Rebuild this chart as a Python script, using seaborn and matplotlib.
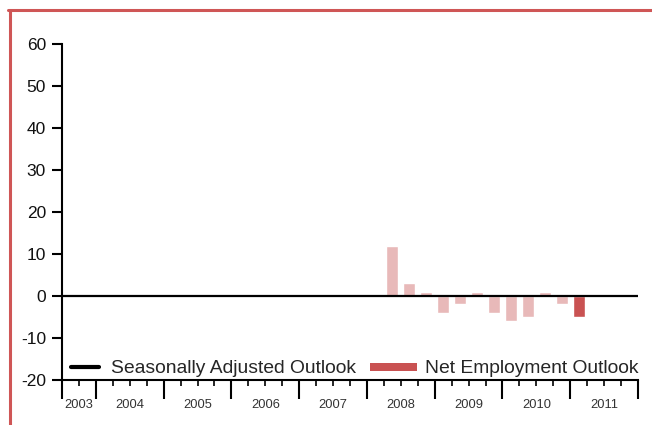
import numpy as np
import pandas as pd
import matplotlib
matplotlib.use("Agg")
import matplotlib.pyplot as plt
import seaborn as sns
from matplotlib.lines import Line2D
from matplotlib.patches import Rectangle, Patch
from matplotlib.legend_handler import HandlerBase

# ---- data ----
years = ["2003", "2004", "2005", "2006", "2007", "2008", "2009", "2010", "2011"]
quarters_in_year = [2, 4, 4, 4, 4, 4, 4, 4, 4]   # 2003 starts at Q3
bar_quarters = ["2008Q2", "2008Q3", "2008Q4", "2009Q1", "2009Q2", "2009Q3",
                "2009Q4", "2010Q1", "2010Q2", "2010Q3", "2010Q4", "2011Q1"]
net_outlook = [12, 3, 1, -4, -2, 1, -4, -6, -5, 1, -2, -5]
is_current = [False] * 11 + [True]
y_ticks = [-20, -10, 0, 10, 20, 30, 40, 50, 60]
legend_labels = ["Seasonally Adjusted Outlook", "Net Employment Outlook"]

LIGHT = "#e8b9b9"
DARK = "#c95252"
FRAME = "#cf5656"

def q_index(q):
    y, qq = int(q[:4]), int(q[-1])
    return (y - 2003) * 4 + (qq - 3)

df = pd.DataFrame({
    "pos": [q_index(q) + 0.5 for q in bar_quarters],
    "value": net_outlook,
    "kind": ["current" if c else "past" for c in is_current],
})

sns.set_theme(style="white")
plt.rcParams["font.family"] = ["Liberation Sans", "DejaVu Sans"]

fig = plt.figure(figsize=(6.52, 4.25), dpi=100)
ax = fig.add_axes([62 / 652, 1 - 380 / 425, 576 / 652, 336 / 425])

sns.barplot(data=df, x="pos", y="value", hue="kind", native_scale=True,
            palette={"past": LIGHT, "current": DARK}, width=0.7, dodge=False,
            legend=False, ax=ax, saturation=1)

total_q = sum(quarters_in_year)
ax.set_xlim(0, total_q)
ax.set_ylim(-20, 60)
ax.axhline(0, color="black", lw=1.6, zorder=3)

# spines
for s in ["top", "right"]:
    ax.spines[s].set_visible(False)
for s in ["left", "bottom"]:
    ax.spines[s].set_color("black")
    ax.spines[s].set_linewidth(1.5)

ax.set_yticks(y_ticks)
ax.set_yticklabels([str(v) for v in y_ticks], fontsize=12.5, color="#111111")
ax.tick_params(axis="y", direction="out", length=7.5, width=1.5, pad=4, color="black", left=True)

# x ticks: year boundaries (long), quarter boundaries (short)
bounds = np.concatenate([[0], np.cumsum(quarters_in_year)])
ax.set_xticks(bounds)
ax.set_xticklabels([""] * len(bounds))
ax.set_xticks(np.arange(0, total_q + 1), minor=True)
ax.tick_params(axis="x", which="major", direction="out", length=13.5, width=1.5, color="black", bottom=True)
ax.tick_params(axis="x", which="minor", direction="out", length=4.5, width=1.2, color="black", bottom=True)
ax.set_xlabel("")
ax.set_ylabel("")

centers = (bounds[:-1] + bounds[1:]) / 2
sec = ax.secondary_xaxis("bottom")
sec.set_xticks(centers)
sec.set_xticklabels(years, fontsize=9.3, color="#333333")
sec.tick_params(length=0, pad=13.5)
sec.spines["bottom"].set_visible(False)

# legend
class LineHandler(HandlerBase):
    def create_artists(self, legend, orig_handle, xdescent, ydescent, width, height, fontsize, trans):
        y = height / 2 - ydescent
        x1 = width - xdescent - 2.5
        x0 = x1 - 20.5
        ln = Line2D([x0, x1], [y, y], color="black", lw=3, solid_capstyle="round", transform=trans)
        return [ln]

class BoxHandler(HandlerBase):
    def create_artists(self, legend, orig_handle, xdescent, ydescent, width, height, fontsize, trans):
        h = 5.8
        y = height / 2 - ydescent - h / 2
        r = Rectangle((-xdescent, y), width, h, facecolor=DARK, edgecolor="none", transform=trans)
        return [r]

FS = 13.85
h1 = Line2D([], [], color="black")
h2 = Patch(color=DARK)
leg = ax.legend([h1, h2], legend_labels, ncol=2, loc="center left",
                bbox_to_anchor=(-0.0104, 0.034), frameon=False, borderpad=0,
                borderaxespad=0, handlelength=33.8 / FS, handletextpad=5.8 / FS,
                columnspacing=10.0 / FS, prop={"size": FS},
                handler_map={Line2D: LineHandler(), Patch: BoxHandler()})

# red frame
fig.add_artist(Line2D([8 / 652, 1], [1 - 10 / 425, 1 - 10 / 425], color=FRAME, lw=2.2,
                      transform=fig.transFigure))
fig.add_artist(Line2D([9.5 / 652, 9.5 / 652], [0, 1 - 10 / 425], color=FRAME, lw=2.2,
                      transform=fig.transFigure))

fig.savefig("out.png", dpi=100)
